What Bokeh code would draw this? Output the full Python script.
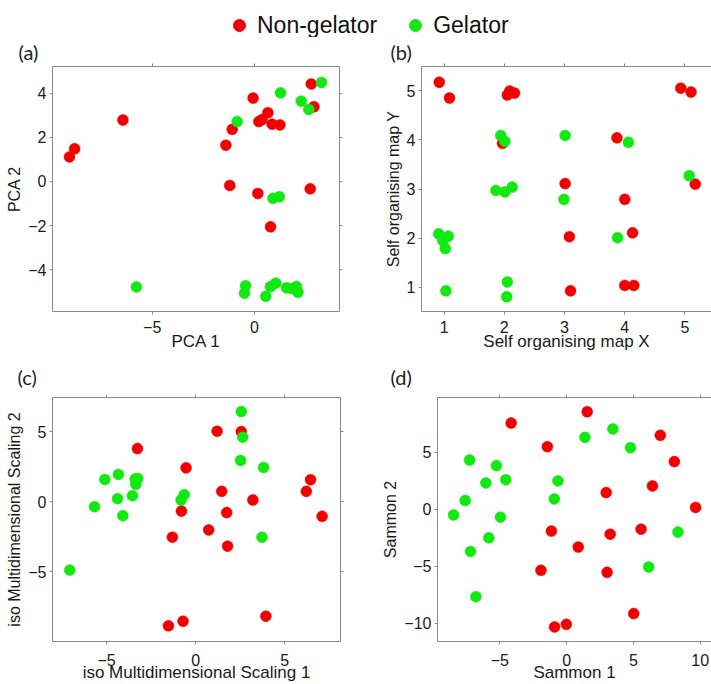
from bokeh.plotting import figure
from bokeh.models import (LinearAxis, FixedTicker, Legend, LegendItem, Range1d,
                          Title, CustomLabelingPolicy)
from bokeh.layouts import column, row
from bokeh.embed import file_html
from bokeh.resources import INLINE

# ---------------- data ----------------
class_labels = ["Non-gelator", "Gelator"]
panel_tags = ["(a)", "(b)", "(c)", "(d)"]

# (a) PCA
pca_non_x = [-9.04, -8.79, -6.43, -1.40, -1.09, -1.21, -0.07, 0.16, 0.21, 0.37, 0.65, 0.86, 1.24, 0.78, 2.77, 2.90, 2.72]
pca_non_y = [1.11, 1.48, 2.78, 1.64, 2.36, -0.18, 3.77, -0.54, 2.71, 2.80, 3.11, 2.59, 2.56, -2.05, 4.41, 3.38, -0.33]
pca_gel_x = [-5.77, -0.85, 1.27, 2.28, 2.65, 3.27, 0.90, 1.21, -0.44, -0.49, 0.55, 0.78, 1.04, 1.56, 1.81, 2.05, 2.12]
pca_gel_y = [-4.77, 2.71, 4.01, 3.63, 3.26, 4.48, -0.76, -0.69, -4.71, -5.05, -5.19, -4.75, -4.60, -4.81, -4.84, -4.75, -5.01]
pca_xticks = [-5, 0]
pca_yticks = [-4, -2, 0, 2, 4]

# (b) Self organising map
som_non_x = [0.92, 1.09, 2.05, 2.09, 2.17, 1.97, 4.93, 5.10, 3.87, 3.01, 4.00, 5.17, 3.08, 4.13, 3.10, 4.00, 4.15]
som_non_y = [5.17, 4.85, 4.91, 4.99, 4.95, 3.93, 5.05, 4.97, 4.04, 3.11, 2.79, 3.10, 2.03, 2.11, 0.93, 1.04, 1.04]
som_gel_x = [0.91, 0.98, 1.07, 1.02, 1.03, 2.05, 2.04, 1.94, 2.01, 1.86, 2.01, 2.13, 3.01, 2.99, 4.06, 3.88, 5.07]
som_gel_y = [2.09, 1.95, 2.04, 1.79, 0.93, 1.11, 0.81, 4.09, 3.97, 2.97, 2.94, 3.04, 4.09, 2.79, 3.95, 2.01, 3.27]
som_xticks = [1, 2, 3, 4, 5]
som_yticks = [1, 2, 3, 4, 5]

# (c) iso Multidimensional Scaling
mds_non_x = [-3.27, -0.54, -0.80, -1.31, -1.53, -0.71, 1.20, 2.56, 1.46, 0.73, 1.74, 1.79, 3.21, 3.94, 6.21, 6.45, 7.10]
mds_non_y = [3.80, 2.42, -0.67, -2.54, -8.88, -8.55, 5.04, 5.01, 0.74, -2.02, -0.78, -3.18, 0.12, -8.19, 0.74, 1.57, -1.05]
mds_gel_x = [-7.07, -5.68, -5.10, -4.34, -4.39, -4.09, -3.55, -3.36, -3.40, -3.25, -0.82, -0.64, 2.56, 2.64, 2.52, 3.81, 3.72]
mds_gel_y = [-4.89, -0.36, 1.59, 1.95, 0.21, -1.00, 0.43, 1.24, 1.62, 1.66, 0.12, 0.50, 6.44, 4.61, 2.95, 2.45, -2.54]
mds_xticks = [-5, 0, 5]
mds_yticks = [-5, 0, 5]

# (d) Sammon
sam_non_x = [-4.15, -1.44, -1.14, -1.92, -0.90, -0.02, 0.87, 1.54, 2.96, 3.26, 3.03, 5.02, 5.57, 6.42, 7.01, 8.06, 9.65]
sam_non_y = [7.55, 5.48, -1.92, -5.36, -10.32, -10.09, -3.32, 8.54, 1.46, -2.19, -5.54, -9.15, -1.75, 2.04, 6.47, 4.17, 0.15]
sam_gel_x = [-8.46, -7.59, -7.26, -7.19, -6.79, -6.04, -5.82, -5.25, -4.55, -4.95, -0.65, -0.92, 1.37, 3.46, 4.78, 8.33, 6.14]
sam_gel_y = [-0.50, 0.76, 4.31, -3.70, -7.67, 2.30, -2.51, 3.82, 2.59, -0.70, 2.48, 0.90, 6.30, 7.03, 5.39, -2.01, -5.07]
sam_xticks = [-5, 0, 5, 10]
sam_yticks = [-10, -5, 0, 5]

# ---------------- style ----------------
RED = "#f20000"
GREEN = "#12e812"
FRAME = "#8a8a8a"
TXT = "#1a1a1a"
FONT = "Liberation Sans"
DOT = 11

NO_LABELS = CustomLabelingPolicy(code="return new Set()")


def style_axis(ax, hidden=False, label_size="17px", line=False):
    ax.major_tick_out = 3
    ax.major_tick_in = 0
    ax.minor_tick_line_color = None
    ax.major_tick_line_color = FRAME
    ax.axis_line_color = FRAME if line else None
    ax.major_label_text_font = FONT
    ax.major_label_text_color = TXT
    ax.axis_label_text_font = FONT
    ax.axis_label_text_color = TXT
    ax.axis_label_text_font_style = "normal"
    ax.axis_label_text_font_size = label_size
    if hidden:
        ax.major_label_text_font_size = "0px"
        ax.major_label_standoff = 0
        ax.major_label_policy = NO_LABELS
    else:
        ax.major_label_text_font_size = "16px"


def panel(width, height, borders, xr, yr, xticks, yticks, xlabel, ylabel,
          tag, tag_dx, tag_standoff, bottom_standoffs, boxed,
          nx, ny, gx, gy):
    left, right, top, bottom = borders
    p = figure(width=width, height=height, x_range=Range1d(*xr), y_range=Range1d(*yr),
               x_axis_type=None, y_axis_type=None, toolbar_location=None,
               output_backend="svg", min_border_left=left, min_border_right=right,
               min_border_top=top, min_border_bottom=bottom)
    p.title = Title(text=tag, align="left", offset=tag_dx, standoff=tag_standoff,
                    text_font="Lato", text_font_size="20px", text_font_style="normal",
                    text_color="#222222")
    p.background_fill_color = "white"
    p.border_fill_color = "white"
    p.outline_line_color = FRAME if boxed else None

    below = LinearAxis(ticker=FixedTicker(ticks=xticks), axis_label=xlabel)
    style_axis(below, line=not boxed)
    below.major_label_standoff = bottom_standoffs[0]
    below.axis_label_standoff = bottom_standoffs[1]
    p.add_layout(below, "below")

    lefta = LinearAxis(ticker=FixedTicker(ticks=yticks), axis_label=ylabel)
    style_axis(lefta, label_size="16px", line=not boxed)
    lefta.major_label_standoff = 3
    lefta.axis_label_standoff = 2
    p.add_layout(lefta, "left")

    above = LinearAxis(ticker=FixedTicker(ticks=xticks))
    style_axis(above, hidden=True, line=not boxed)
    p.add_layout(above, "above")

    if boxed:
        righta = LinearAxis(ticker=FixedTicker(ticks=yticks))
        style_axis(righta, hidden=True)
        p.add_layout(righta, "right")

    p.scatter(nx, ny, size=DOT, fill_color=RED, line_color=RED, line_width=0.5)
    p.scatter(gx, gy, size=DOT, fill_color=GREEN, line_color=GREEN, line_width=0.5)
    return p


fa = panel(360, 318, (52, 21, 27, 44), (-9.87, 4.15), (-5.88, 5.20),
           pca_xticks, pca_yticks, "PCA 1", "PCA 2", panel_tags[0], -34, 0, (6, -4), True,
           pca_non_x, pca_non_y, pca_gel_x, pca_gel_y)
fb = panel(351, 318, (61, 0, 27, 44), (0.625, 5.44), (0.51, 5.49),
           som_xticks, som_yticks, "Self organising map X", "Self organising map Y",
           panel_tags[1], -31, 0, (6, -4), False,
           som_non_x, som_non_y, som_gel_x, som_gel_y)
fc = panel(360, 329, (52, 20, 42, 43), (-8.04, 8.13), (-10.0, 7.45),
           mds_xticks, mds_yticks, "iso Multidimensional Scaling 1", "iso Multidimensional Scaling 2",
           panel_tags[2], -35, 12, (9, -6), True,
           mds_non_x, mds_non_y, mds_gel_x, mds_gel_y)
fd = panel(351, 329, (77, 0, 42, 43), (-9.66, 10.84), (-11.6, 9.79),
           sam_xticks, sam_yticks, "Sammon 1", "Sammon 2",
           panel_tags[3], -47, 12, (9, -6), False,
           sam_non_x, sam_non_y, sam_gel_x, sam_gel_y)

# ---------------- legend strip ----------------
lg = figure(width=711, height=37, x_range=Range1d(1000, 1001), y_range=Range1d(1000, 1001),
            x_axis_type=None, y_axis_type=None, toolbar_location=None,
            output_backend="svg", min_border=0)
lg.outline_line_color = None
r_non = lg.scatter(pca_non_x, pca_non_y, size=12, fill_color=RED, line_color=RED)
r_gel = lg.scatter(pca_gel_x, pca_gel_y, size=12, fill_color=GREEN, line_color=GREEN)
legend = Legend(items=[LegendItem(label=class_labels[0], renderers=[r_non]),
                       LegendItem(label=class_labels[1], renderers=[r_gel])],
                orientation="horizontal", location=(224, -3),
                glyph_width=30, glyph_height=30, label_standoff=3, spacing=23,
                padding=0, margin=0, border_line_color=None, background_fill_alpha=0,
                label_text_font=FONT, label_text_font_size="23px", label_text_color="#111111")
lg.add_layout(legend)

layout = column(lg, row(fa, fb), row(fc, fd))

open("out.html", "w").write(file_html(layout, INLINE))
